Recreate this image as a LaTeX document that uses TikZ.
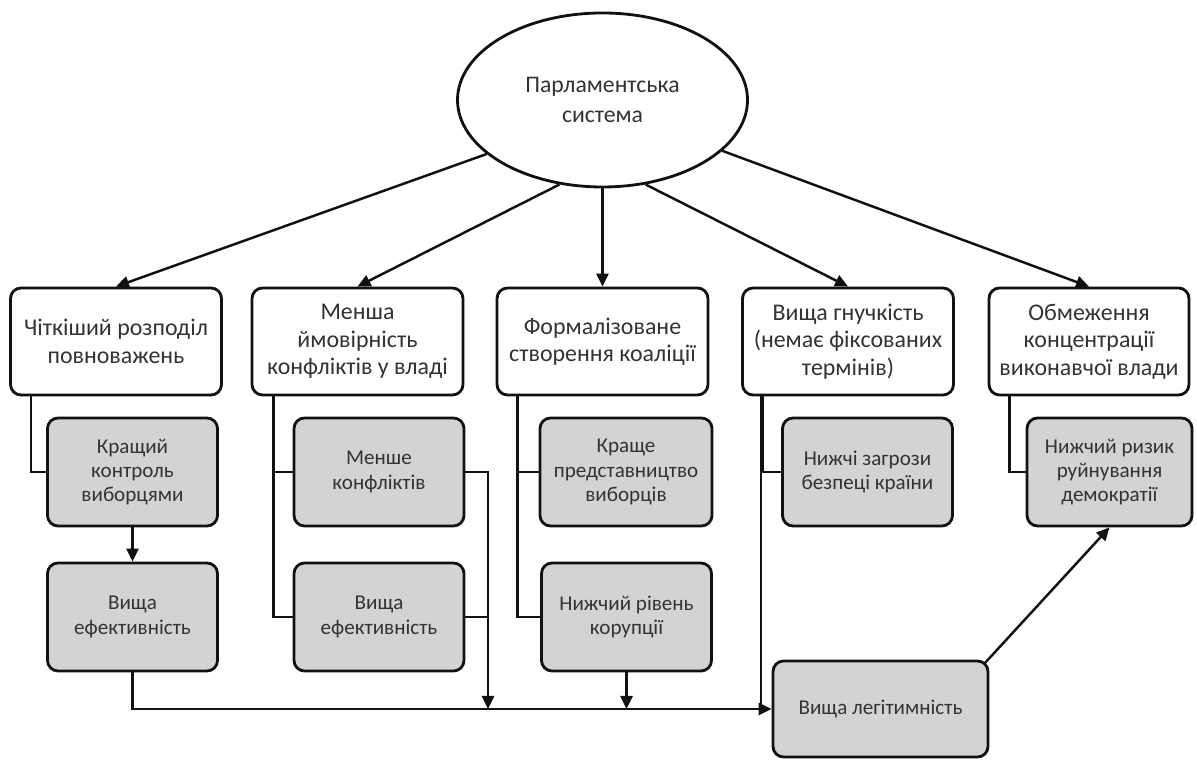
\documentclass[tikz,border=0pt]{standalone}
\usepackage{fontspec}
\setmainfont{Carlito}
\usepackage{xcolor}
\usepackage{tikz}
\usetikzlibrary{arrows.meta,calc,shapes.geometric}
\definecolor{BoxGray}{HTML}{D3D3D3}
\definecolor{LineColor}{HTML}{111111}
\definecolor{TextColor}{HTML}{333333}
\tikzset{
	topbox/.style={draw=LineColor, fill=white, line width=1.6pt, rounded corners=6pt, minimum width=4.22cm, minimum height=2.14cm, align=center, text=TextColor, font=\fontsize{13.6}{15.6}\selectfont, inner sep=2pt},
	subbox/.style={draw=LineColor, fill=BoxGray, line width=1.6pt, rounded corners=6pt, minimum width=3.4cm, minimum height=2.16cm, align=center, text=TextColor, font=\fontsize{12}{13.8}\selectfont, inner sep=2pt},
	link/.style={draw=LineColor, line width=1.4pt},
	arrow/.style={link, -{Triangle[length=2.6mm,width=2.4mm]}}
}

\begin{document}
\begin{tikzpicture}[x=1cm,y=1cm]
	\fill[white] (0,0) rectangle (23.94,15.22);
	\useasboundingbox (0,0) rectangle (23.94,15.22);

	\node[ellipse, draw=LineColor, line width=1.6pt, minimum width=5.8cm, minimum height=3.48cm, inner sep=0pt, align=center, text=TextColor, font=\fontsize{13.5}{17.5}\selectfont] (ell) at (12.05,13.22) {Парламентська\\система};

	\node[topbox] (b1) at (2.32,8.39) {Чіткіший розподіл\\повноважень};
	\node[topbox] (b2) at (7.15,8.39) {Менша\\ймовірність\\конфліктів у владі};
	\node[topbox] (b3) at (12.05,8.39) {Формалізоване\\створення коаліції};
	\node[topbox] (b4) at (16.96,8.39) {Вища гнучкість\\(немає фіксованих\\термінів)};
	\node[topbox, minimum width=4.0cm] (b5) at (21.78,8.39) {Обмеження\\концентрації\\виконавчої влади};

	\node[subbox] (g1) at (2.65,5.78) {Кращий\\контроль\\виборцями};
	\node[subbox] (g2) at (7.58,5.78) {Менше\\конфліктів};
	\node[subbox, minimum width=3.44cm] (g3) at (12.52,5.78) {Краще\\представництво\\виборців};
	\node[subbox] (g4) at (17.35,5.78) {Нижчі загрози\\безпеці країни};
	\node[subbox, minimum width=3.3cm] (g5) at (22.19,5.78) {Нижчий ризик\\руйнування\\демократії};

	\node[subbox] (g6) at (2.65,2.88) {Вища\\ефективність};
	\node[subbox] (g7) at (7.58,2.88) {Вища\\ефективність};
	\node[subbox] (g8) at (12.53,2.88) {Нижчий рівень\\корупції};

	\node[subbox, minimum width=4.3cm, minimum height=1.92cm] (leg) at (17.61,1.04) {Вища легітимність};

	\foreach \ang/\target in {205/b1,243/b2,270/b3,297/b4,337/b5} {
		\draw[arrow] (ell.\ang) -- (\target.north);
	}

	\foreach \top/\sub in {b1/g1,b4/g4,b5/g5} {
		\draw[link] ($(\top.south west)+(0.44,0)$) |- (\sub.west);
	}
	\draw[link] ($(b2.south west)+(0.46,0)$) coordinate (t2) |- (g7.west);
	\draw[link] (t2 |- g2.west) -- (g2.west);
	\draw[link] ($(b3.south west)+(0.44,0)$) coordinate (t3) |- (g8.west);
	\draw[link] (t3 |- g3.west) -- (g3.west);
	\draw[link] ($(b4.south west)+(0.4,0)$) coordinate (t4) -- (t4 |- leg.west);

	\draw[arrow] (g1.south) -- (g6.north);
	\draw[arrow] (g6.south) |- (leg.west);
	\coordinate (j2) at (9.76,0 |- leg.west);
	\draw[arrow] (g2.east) -| (j2);
	\draw[link] (g7.east) -- (g7.east -| j2);
	\draw[arrow] (g8.south) -- (g8.south |- leg.west);
	\draw[arrow] ($(leg.north east)+(-0.1,-0.08)$) -- (g5.south);
\end{tikzpicture}
\end{document}
